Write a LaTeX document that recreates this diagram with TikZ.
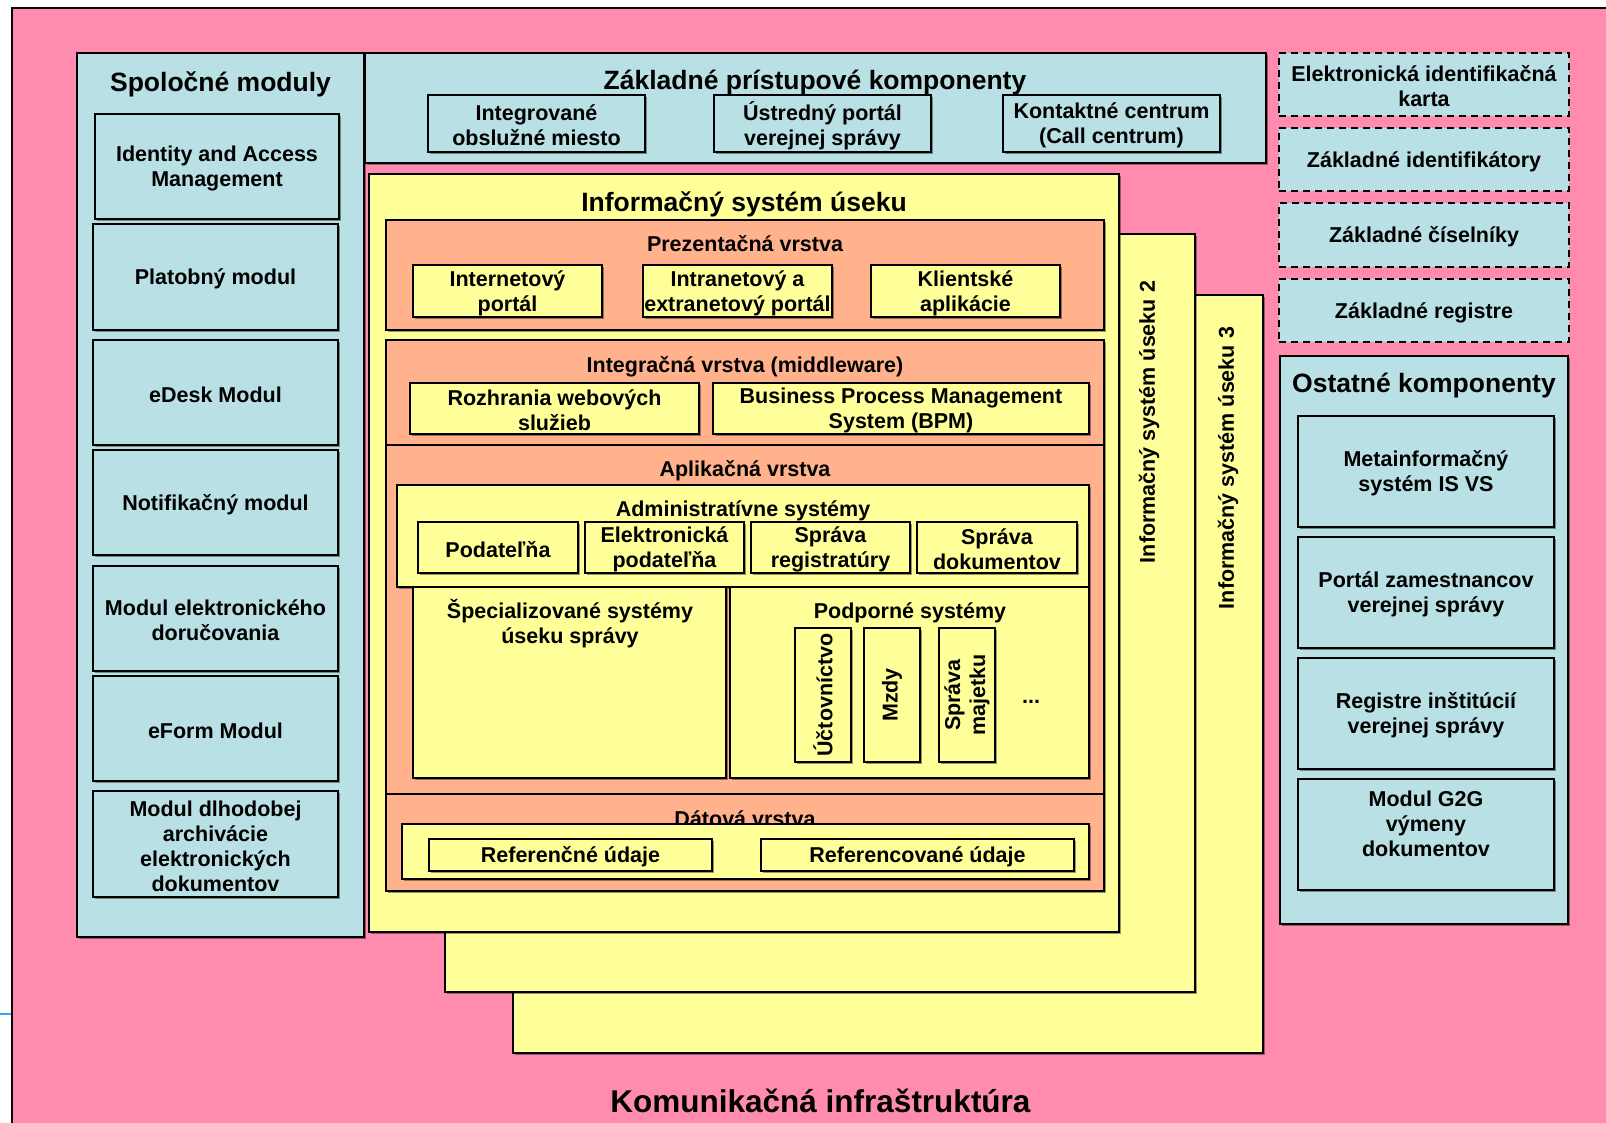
\documentclass[tikz,border=0pt]{standalone}
\usepackage{fontspec}
\setmainfont{Liberation Sans}
\usetikzlibrary{shadows}
\definecolor{pinkbg}{RGB}{255,140,175}
\definecolor{lblue}{RGB}{185,224,228}
\definecolor{yel}{RGB}{255,255,153}
\definecolor{orng}{RGB}{255,178,140}
\definecolor{tickblue}{RGB}{60,160,255}
\newcommand\lbl{\bfseries\fontsize{21.5}{25}\selectfont}
\newcommand\ttl{\bfseries\fontsize{26.5}{30}\selectfont}
\newcommand\bigttl{\bfseries\fontsize{31.5}{36}\selectfont}
\newcommand\bx[7]{\node[#6, minimum width={(#4)-(#2)}, minimum height={(#5)-(#3)}] (#1) at ({((#2)+(#4))/2},{((#3)+(#5))/2}) {};%
  \if\relax\detokenize{#7}\relax\else\node[txt] (#1-t) at ([yshift=-2pt]#1.center) {#7};\fi}
\tikzset{
  box/.style={draw=black, line width=1.8pt, inner sep=0pt,
    drop shadow={shadow xshift=1.5pt, shadow yshift=-1.5pt, fill=black, opacity=0.4}},
  bluebox/.style={box, fill=lblue},
  yelbox/.style={box, fill=yel},
  orbox/.style={box, fill=orng},
  dashbox/.style={draw=black, line width=1.6pt, dash pattern=on 7pt off 5pt, fill=lblue, inner sep=0pt},
  ttlnode/.style={font=\ttl, anchor=base, inner sep=0pt},
  lblnode/.style={font=\lbl, anchor=base, inner sep=0pt},
  txt/.style={font=\lbl, inner sep=0pt, align=center},
}
\begin{document}
\begin{tikzpicture}[x=1pt,y=-1pt]
\useasboundingbox (0,0) rectangle (1606,1122);
\fill[white] (0,0) rectangle (1606,1122);
% background
\node[draw=black, line width=2pt, fill=pinkbg, minimum width=1640pt, minimum height=1160pt, inner sep=0pt] (infra) at ({12+820},{8+580}) {};
\coordinate (tickA) at (0,1014);
\draw[tickblue, line width=1.2pt] (tickA) -- (infra.west |- tickA);
\node[font=\bigttl, anchor=base, inner sep=0pt] (infraT) at (820.5,1112) {Komunikačná infraštruktúra};

% Spolocne moduly
\bx{spol}{77}{53}{364}{937}{bluebox}{}
\node[ttlnode] (spolT) at (220.5,91) {Spoločné moduly};
\bx{iam}{95}{114}{339}{219}{bluebox}{Identity and Access\\Management}
\bx{plat}{93}{224}{338}{330}{bluebox}{Platobný modul}
\bx{edesk}{93}{340}{338}{445}{bluebox}{eDesk Modul}
\bx{notif}{93}{450}{338}{555}{bluebox}{Notifikačný modul}
\bx{model}{93}{566}{338}{671}{bluebox}{Modul elektronického\\doručovania}
\bx{eform}{93}{676}{338}{781}{bluebox}{eForm Modul}
\bx{moddlh}{93}{791}{338}{897}{bluebox}{Modul dlhodobej\\archivácie\\elektronických\\dokumentov}

% Zakladne pristupove komponenty
\bx{zakl}{365}{53}{1266}{163}{bluebox}{}
\bx{iom}{428}{95}{645}{152}{bluebox}{Integrované\\obslužné miesto}
\bx{ustr}{714}{95}{931}{152}{bluebox}{Ústredný portál\\verejnej správy}
\bx{kont}{1003}{95}{1220}{152}{bluebox}{Kontaktné centrum\\(Call centrum)}
\node[ttlnode] (zaklT) at (815,89) {Základné prístupové komponenty};

% IS stack
\bx{is3}{513}{295}{1263}{1053}{yelbox}{}
\node[txt, rotate=90] (is3T) at (1228,468) {Informačný systém úseku 3};
\bx{is2}{445}{234}{1195}{992}{yelbox}{}
\node[txt, rotate=90] (is2T) at (1149,422) {Informačný systém úseku 2};
\bx{is1}{369}{174}{1119}{932}{yelbox}{}
\node[ttlnode] (is1T) at (744,211) {Informačný systém úseku};

% Prezentacna vrstva
\bx{prez}{386}{220}{1104}{330}{orbox}{}
\node[lblnode] (prezT) at (745,251) {Prezentačná vrstva};
\bx{inet}{413}{265}{602}{317}{yelbox}{Internetový\\portál}
\bx{intra}{643}{265}{832}{317}{yelbox}{Intranetový a\\extranetový portál}
\bx{klient}{871}{265}{1060}{317}{yelbox}{Klientské\\aplikácie}

% Integracna vrstva
\bx{integ}{386}{340}{1104}{445}{orbox}{}
\node[lblnode] (integT) at (745,372) {Integračná vrstva (middleware)};
\bx{rozhr}{410}{383}{699}{434}{yelbox}{Rozhrania webových\\služieb}
\bx{bpm}{713}{383}{1089}{434}{yelbox}{Business Process Management\\System (BPM)}

% Aplikacna vrstva
\bx{aplik}{386}{445}{1104}{794}{orbox}{}
\node[lblnode] (aplikT) at (745,476) {Aplikačná vrstva};
\bx{admin}{397}{485}{1089}{587}{yelbox}{}
\node[lblnode] (adminT) at (743,516) {Administratívne systémy};
\bx{pod}{418}{522}{578}{573}{yelbox}{Podateľňa}
\bx{epod}{585}{522}{744}{573}{yelbox}{Elektronická\\podateľňa}
\bx{sreg}{751}{522}{910}{573}{yelbox}{Správa\\registratúry}
\bx{sdok}{917}{522}{1077}{573}{yelbox}{Správa\\dokumentov}
\bx{spec}{413}{587}{726}{778}{yelbox}{}
\node[txt] (specT) at (570,624) {Špecializované systémy\\úseku správy};
\bx{podp}{730}{587}{1089}{778}{yelbox}{}
\node[lblnode] (podpT) at (910,618) {Podporné systémy};
\bx{uct}{795}{628}{851}{762}{yelbox}{}
\node[txt, rotate=90] (uctT) at (uct.center) {Účtovníctvo};
\bx{mzdy}{864}{628}{920}{762}{yelbox}{}
\node[txt, rotate=90] (mzdyT) at (mzdy.center) {Mzdy};
\bx{smaj}{939}{628}{995}{762}{yelbox}{}
\node[txt, rotate=90] (smajT) at (smaj.center) {Správa\\majetku};
\node[lblnode] (dots) at (1031,703) {...};

% Datova vrstva
\bx{datova}{386}{794}{1104}{891}{orbox}{}
\node[lblnode] (datovaT) at (745,826) {Dátová vrstva};
\bx{dataIn}{402}{824}{1089}{879}{yelbox}{}
\bx{ref}{429}{839}{712}{871}{yelbox}{Referenčné údaje}
\bx{refc}{761}{839}{1074}{871}{yelbox}{Referencované údaje}

% Right column
\bx{eik}{1279}{53}{1569}{116}{dashbox}{Elektronická identifikačná\\karta}
\bx{zid}{1279}{128}{1569}{191}{dashbox}{Základné identifikátory}
\bx{zcis}{1279}{203}{1569}{267}{dashbox}{Základné číselníky}
\bx{zreg}{1279}{279}{1569}{342}{dashbox}{Základné registre}
\bx{ost}{1280}{356}{1568}{924}{bluebox}{}
\node[ttlnode] (ostT) at (1424,392) {Ostatné komponenty};
\bx{meta}{1298}{416}{1554}{527}{bluebox}{Metainformačný\\systém IS VS}
\bx{portz}{1298}{537}{1554}{648}{bluebox}{Portál zamestnancov\\verejnej správy}
\bx{regi}{1298}{658}{1554}{769}{bluebox}{Registre inštitúcií\\verejnej správy}
\bx{g2g}{1298}{779}{1554}{890}{bluebox}{}
\node[txt] (g2gT) at (1426,824) {Modul G2G\\výmeny\\dokumentov};
\end{tikzpicture}
\end{document}
